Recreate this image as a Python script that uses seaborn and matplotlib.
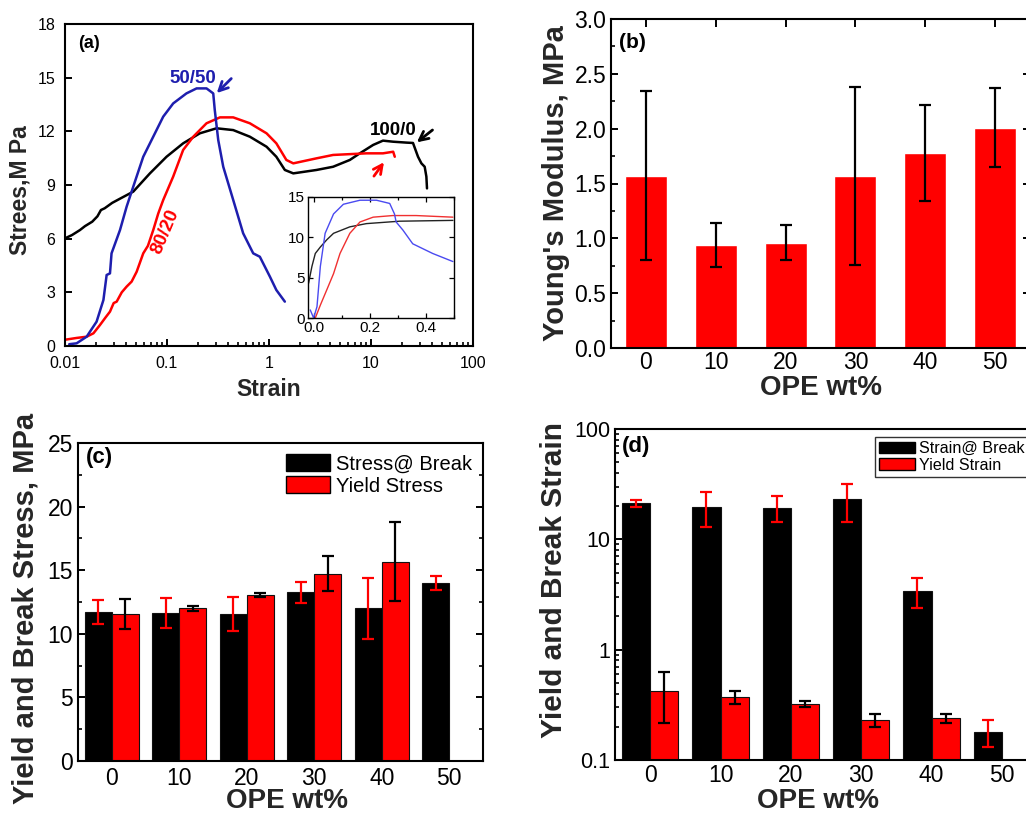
import matplotlib
matplotlib.use("Agg")
import matplotlib.pyplot as plt
import numpy as np
import pandas as pd
import seaborn as sns
from matplotlib.patches import Patch
from matplotlib.ticker import (MultipleLocator, FixedLocator, FixedFormatter,
                               LogLocator, NullFormatter)

# ---------------- (a) stress-strain curves (log strain axis) ----------------
black_strain = [0.010, 0.0117, 0.0140, 0.0157, 0.0185, 0.0208, 0.0225, 0.0245, 0.0290,
                0.0350, 0.0467, 0.068, 0.099, 0.144, 0.210, 0.306, 0.446, 0.649, 0.946,
                1.18, 1.43, 1.73, 2.92, 4.25, 6.20, 7.77, 10.5, 13.1, 16.5, 22.2, 25.8,
                28.9, 31.2, 33.6, 34.9, 35.4]
black_stress = [6.02, 6.20, 6.48, 6.70, 6.95, 7.25, 7.60, 7.70, 8.00, 8.25, 8.63, 9.65,
                10.58, 11.33, 11.89, 12.17, 12.07, 11.70, 11.14, 10.58, 9.84, 9.65, 9.84,
                10.02, 10.40, 10.77, 11.24, 11.48, 11.42, 11.37, 11.35, 10.58, 10.21,
                10.02, 9.47, 8.81]

red_strain = [0.010, 0.0130, 0.0163, 0.0190, 0.0220, 0.0250, 0.0276, 0.0300, 0.0321,
              0.0360, 0.0402, 0.0450, 0.0504, 0.0585, 0.0650, 0.0733, 0.0820, 0.0918,
              0.115, 0.144, 0.181, 0.244, 0.330, 0.446, 0.649, 0.946, 1.18, 1.48, 1.73,
              2.92, 4.25, 9.02, 13.1, 16.5, 17.1]
red_stress = [0.35, 0.45, 0.52, 0.71, 1.17, 1.60, 1.92, 2.40, 2.48, 3.00, 3.32, 3.60,
              4.15, 5.18, 5.60, 6.48, 7.40, 8.16, 9.47, 10.96, 11.70, 12.45, 12.78,
              12.78, 12.45, 11.89, 11.33, 10.40, 10.21, 10.49, 10.68, 10.77, 10.77,
              10.86, 10.58]

blue_strain = [0.0110, 0.0130, 0.0163, 0.0204, 0.0238, 0.0256, 0.0276, 0.0286, 0.0346,
               0.0402, 0.0467, 0.0585, 0.0733, 0.0918, 0.115, 0.155, 0.195, 0.244, 0.284,
               0.294, 0.318, 0.356, 0.446, 0.558, 0.700, 0.813, 1.02, 1.18, 1.43]
blue_stress = [0.10, 0.15, 0.52, 1.36, 2.57, 3.97, 4.06, 5.18, 6.48, 7.79, 8.91, 10.58,
               11.70, 12.82, 13.56, 14.12, 14.40, 14.40, 14.12, 13.19, 11.51, 10.02, 8.16,
               6.30, 5.18, 4.99, 3.88, 3.13, 2.48]

# inset: linear strain, 0 - 0.5
inset_black_strain = [-0.018, -0.006, 0.006, 0.024, 0.047, 0.071, 0.129, 0.188, 0.306, 0.496]
inset_black_stress = [4.3, 6.4, 8.0, 8.8, 9.7, 10.5, 11.3, 11.7, 12.0, 12.1]
inset_red_strain = [0.006, 0.024, 0.047, 0.071, 0.094, 0.129, 0.165, 0.212, 0.282, 0.365, 0.496]
inset_red_stress = [0.0, 1.6, 3.5, 5.5, 8.0, 10.5, 11.9, 12.5, 12.7, 12.7, 12.5]
inset_blue_strain = [-0.012, 0.0, 0.012, 0.024, 0.041, 0.071, 0.106, 0.165, 0.224, 0.271,
                     0.288, 0.294, 0.318, 0.353, 0.424, 0.496]
inset_blue_stress = [1.0, 0.0, 1.4, 6.4, 10.5, 12.9, 14.1, 14.6, 14.6, 14.2, 12.9, 11.9,
                     10.9, 9.2, 8.0, 7.0]

# ---------------- (b)-(d) bar data ----------------
ope_labels = ["0", "10", "20", "30", "40", "50"]

modulus = [1.57, 0.94, 0.96, 1.57, 1.78, 2.01]
modulus_err = [0.77, 0.20, 0.16, 0.81, 0.44, 0.36]

break_stress = [11.70, 11.62, 11.54, 13.27, 11.99, 13.98]
break_stress_err = [0.96, 1.20, 1.34, 0.81, 2.40, 0.57]
yield_stress = [11.57, 12.01, 13.06, 14.74, 15.66, np.nan]
yield_stress_err = [1.18, 0.18, 0.14, 1.36, 3.11, np.nan]

break_strain = [21.2, 19.8, 19.4, 23.0, 3.40, 0.181]
break_strain_err = [1.4, 6.8, 5.05, 8.7, 1.03, 0.051]
yield_strain = [0.422, 0.370, 0.320, 0.231, 0.239, np.nan]
yield_strain_err = [0.207, 0.051, 0.02, 0.031, 0.021, np.nan]

# ---------------- style ----------------
sns.set_theme(style="ticks")
plt.rcParams["font.family"] = ["Liberation Sans", "DejaVu Sans"]
plt.rcParams.update({
    "xtick.direction": "in", "ytick.direction": "in",
    "axes.linewidth": 1.5, "xtick.major.width": 1.4, "ytick.major.width": 1.4,
    "xtick.minor.width": 1.2, "ytick.minor.width": 1.2,
    "xtick.major.size": 5, "ytick.major.size": 5,
    "xtick.minor.size": 3, "ytick.minor.size": 3,
    "axes.edgecolor": "black", "text.color": "black",
    "xtick.color": "black", "ytick.color": "black",
})

RED = "#FF0000"
BLUE = "#1E1EAE"
W, H = 1026, 814
fig = plt.figure(figsize=(W / 100, H / 100), dpi=100)


def box(l, t, r, b):
    return [l / W, 1 - b / H, (r - l) / W, (b - t) / H]


def bold_label(ax, xlabel, ylabel, size_x, size_y, xpos, ypos):
    ax.set_xlabel(xlabel, fontsize=size_x, fontweight="bold", va="top")
    ax.set_ylabel(ylabel, fontsize=size_y, fontweight="bold")
    ax.xaxis.set_label_coords(*xpos)
    ax.yaxis.set_label_coords(*ypos)


# ================= (a) =================
ax_a = fig.add_axes(box(65, 24, 473, 346))
curves = pd.concat([
    pd.DataFrame({"strain": black_strain, "stress": black_stress, "blend": "100/0"}),
    pd.DataFrame({"strain": red_strain, "stress": red_stress, "blend": "80/20"}),
    pd.DataFrame({"strain": blue_strain, "stress": blue_stress, "blend": "50/50"}),
])
sns.lineplot(data=curves, x="strain", y="stress", hue="blend",
             palette={"100/0": "black", "80/20": RED, "50/50": BLUE},
             sort=False, estimator=None, lw=1.8, legend=False, ax=ax_a)
ax_a.set_xscale("log")
ax_a.set_xlim(0.01, 100)
ax_a.set_ylim(0, 18)
ax_a.yaxis.set_major_locator(MultipleLocator(3))
ax_a.xaxis.set_major_locator(FixedLocator([0.01, 0.1, 1, 10, 100]))
ax_a.xaxis.set_major_formatter(FixedFormatter(["0.01", "0.1", "1", "10", "100"]))
ax_a.xaxis.set_minor_locator(LogLocator(base=10, subs=np.arange(2, 10)))
ax_a.xaxis.set_minor_formatter(NullFormatter())
ax_a.tick_params(labelsize=11.5, top=False, right=False, pad=7)
ax_a.tick_params(axis="x", which="minor", top=False)
bold_label(ax_a, "Strain", "Strees,M Pa", 16.5, 16.5, (0.5, -0.100), (-0.081, 0.484))
ax_a.text(0.033, 0.94, "(a)", transform=ax_a.transAxes, fontsize=13,
          fontweight="bold", va="center", ha="left")

ax_a.text(0.181, 14.96, "50/50", color=BLUE, fontsize=13.5, fontweight="bold",
          ha="center", va="center")
ax_a.annotate("", xy=(0.294, 14.03), xytext=(0.446, 15.06),
              arrowprops=dict(arrowstyle="->", color=BLUE, lw=2, mutation_scale=16))
ax_a.text(16.4, 12.02, "100/0", color="black", fontsize=13.5, fontweight="bold",
          ha="center", va="center")
ax_a.annotate("", xy=(26.8, 11.29), xytext=(42.1, 12.17),
              arrowprops=dict(arrowstyle="->", color="black", lw=2, mutation_scale=16))
ax_a.text(0.0968, 6.39, "80/20", color=RED, fontsize=13.5, fontweight="bold",
          ha="center", va="center", rotation=67)
ax_a.annotate("", xy=(13.9, 10.40), xytext=(10.3, 9.37),
              arrowprops=dict(arrowstyle="->", color=RED, lw=2, mutation_scale=16))

# inset
ax_in = fig.add_axes(box(308, 197, 454, 318))
inset = pd.concat([
    pd.DataFrame({"strain": inset_black_strain, "stress": inset_black_stress, "blend": "100/0"}),
    pd.DataFrame({"strain": inset_red_strain, "stress": inset_red_stress, "blend": "80/20"}),
    pd.DataFrame({"strain": inset_blue_strain, "stress": inset_blue_stress, "blend": "50/50"}),
])
sns.lineplot(data=inset, x="strain", y="stress", hue="blend",
             palette={"100/0": "#222222", "80/20": "#F03030", "50/50": "#4A4AF0"},
             sort=False, estimator=None, lw=1.0, legend=False, ax=ax_in)
ax_in.set_xlim(-0.02, 0.5)
ax_in.set_ylim(0, 15)
ax_in.xaxis.set_major_locator(FixedLocator([0.0, 0.2, 0.4]))
ax_in.xaxis.set_major_formatter(FixedFormatter(["0.0", "0.2", "0.4"]))
ax_in.xaxis.set_minor_locator(MultipleLocator(0.1))
ax_in.yaxis.set_major_locator(MultipleLocator(5))
ax_in.set_xlabel("")
ax_in.set_ylabel("")
for s in ax_in.spines.values():
    s.set_linewidth(1.0)
ax_in.tick_params(labelsize=11, top=True, right=True, which="both", width=0.9, pad=2)
ax_in.tick_params(which="major", length=3.5)
ax_in.tick_params(which="minor", length=2)

# ================= (b) =================
ax_b = fig.add_axes(box(611, 19, 1030, 348))
df_b = pd.DataFrame({"ope": ope_labels, "modulus": modulus})
sns.barplot(data=df_b, x="ope", y="modulus", order=ope_labels, color=RED,
            saturation=1, width=0.6, errorbar=None, ax=ax_b)
for patch, err in zip(ax_b.patches, modulus_err):
    ax_b.errorbar(patch.get_x() + patch.get_width() / 2, patch.get_height(), yerr=err,
                  fmt="none", ecolor="black", elinewidth=1.6, capsize=4, capthick=1.6)
ax_b.set_xlim(-0.5, 5.5)
ax_b.set_ylim(0, 3.0)
ax_b.yaxis.set_major_locator(MultipleLocator(0.5))
ax_b.yaxis.set_major_formatter(plt.FormatStrFormatter("%.1f"))
ax_b.yaxis.set_minor_locator(MultipleLocator(0.25))
ax_b.tick_params(axis="y", which="both", left=True, right=True, labelsize=16.5)
ax_b.tick_params(axis="x", bottom=False, top=True, labelsize=16.5, length=6, pad=2)
bold_label(ax_b, "OPE wt%", "Young's Modulus, MPa", 20, 21, (0.50, -0.082), (-0.098, 0.50))
ax_b.text(0.02, 0.93, "(b)", transform=ax_b.transAxes, fontsize=15,
          fontweight="bold", va="center", ha="left")


# ================= grouped bars helper =================
def grouped(ax, first, first_err, second, second_err, names):
    df = pd.DataFrame({
        "ope": ope_labels * 2,
        "value": list(first) + list(second),
        "kind": [names[0]] * 6 + [names[1]] * 6,
    }).dropna()
    sns.barplot(data=df, x="ope", y="value", hue="kind", order=ope_labels,
                hue_order=names, palette={names[0]: "black", names[1]: RED},
                saturation=1, edgecolor="#111111", linewidth=0.8, errorbar=None,
                legend=False, ax=ax)
    # error bars drawn in the opposite colour of each bar
    for container, errs, ecol in zip(ax.containers, (first_err, second_err), (RED, "black")):
        for patch in container:
            xc = patch.get_x() + patch.get_width() / 2
            idx = int(round(xc))
            ax.errorbar(xc, patch.get_height(), yerr=errs[idx], fmt="none", ecolor=ecol,
                        elinewidth=1.6, capsize=4, capthick=1.6, zorder=5)
    ax.set_xlim(-0.5, 5.5)


# ================= (c) =================
ax_c = fig.add_axes(box(78, 443, 483, 761))
grouped(ax_c, break_stress, break_stress_err, yield_stress, yield_stress_err,
        ("Stress@ Break", "Yield Stress"))
ax_c.set_ylim(0, 25)
ax_c.yaxis.set_major_locator(MultipleLocator(5))
ax_c.yaxis.set_minor_locator(MultipleLocator(2.5))
ax_c.tick_params(axis="y", which="both", left=True, right=True, labelsize=16.5)
ax_c.tick_params(axis="x", bottom=False, top=False, labelsize=16.5, pad=4)
bold_label(ax_c, "OPE wt%", "Yield and Break Stress, MPa", 20, 21, (0.516, -0.085), (-0.094, 0.48))
ax_c.text(0.02, 0.953, "(c)", transform=ax_c.transAxes, fontsize=16,
          fontweight="bold", va="center", ha="left")
ax_c.legend(handles=[Patch(facecolor="black", edgecolor="black"),
                     Patch(facecolor=RED, edgecolor="black")],
            labels=["Stress@ Break", "Yield Stress"], loc="upper right",
            bbox_to_anchor=(1.0, 1.0), frameon=False, fontsize=14.5,
            handlelength=2.15, handleheight=0.9, handletextpad=0.3,
            labelspacing=0.15, borderaxespad=0.35, borderpad=0.2)

# ================= (d) =================
ax_d = fig.add_axes(box(615, 429, 1037, 760))
grouped(ax_d, break_strain, break_strain_err, yield_strain, yield_strain_err,
        ("Strain@ Break", "Yield Strain"))
ax_d.set_yscale("log")
ax_d.set_ylim(0.1, 100)
ax_d.yaxis.set_major_locator(FixedLocator([0.1, 1, 10, 100]))
ax_d.yaxis.set_major_formatter(FixedFormatter(["0.1", "1", "10", "100"]))
ax_d.yaxis.set_minor_locator(LogLocator(base=10, subs=np.arange(2, 10)))
ax_d.yaxis.set_minor_formatter(NullFormatter())
ax_d.tick_params(axis="y", which="both", left=True, right=True, labelsize=15.5)
ax_d.tick_params(axis="x", bottom=False, top=False, labelsize=16.5, pad=3)
bold_label(ax_d, "OPE wt%", "Yield and Break Strain", 20, 21.5, (0.48, -0.086), (-0.111, 0.544))
ax_d.text(0.017, 0.946, "(d)", transform=ax_d.transAxes, fontsize=16,
          fontweight="bold", va="center", ha="left")
leg = ax_d.legend(handles=[Patch(facecolor="black", edgecolor="black"),
                           Patch(facecolor=RED, edgecolor="black")],
                  labels=["Strain@ Break", "Yield Strain"], loc="upper right",
                  bbox_to_anchor=(1.0, 1.0), frameon=True, fancybox=False,
                  framealpha=1, edgecolor="#333333", fontsize=11.6,
                  handlelength=2.2, handleheight=0.75, handletextpad=0.3,
                  labelspacing=0.1, borderaxespad=0.5, borderpad=0.25)
leg.get_frame().set_linewidth(1.0)

fig.savefig("out.png", dpi=100)
